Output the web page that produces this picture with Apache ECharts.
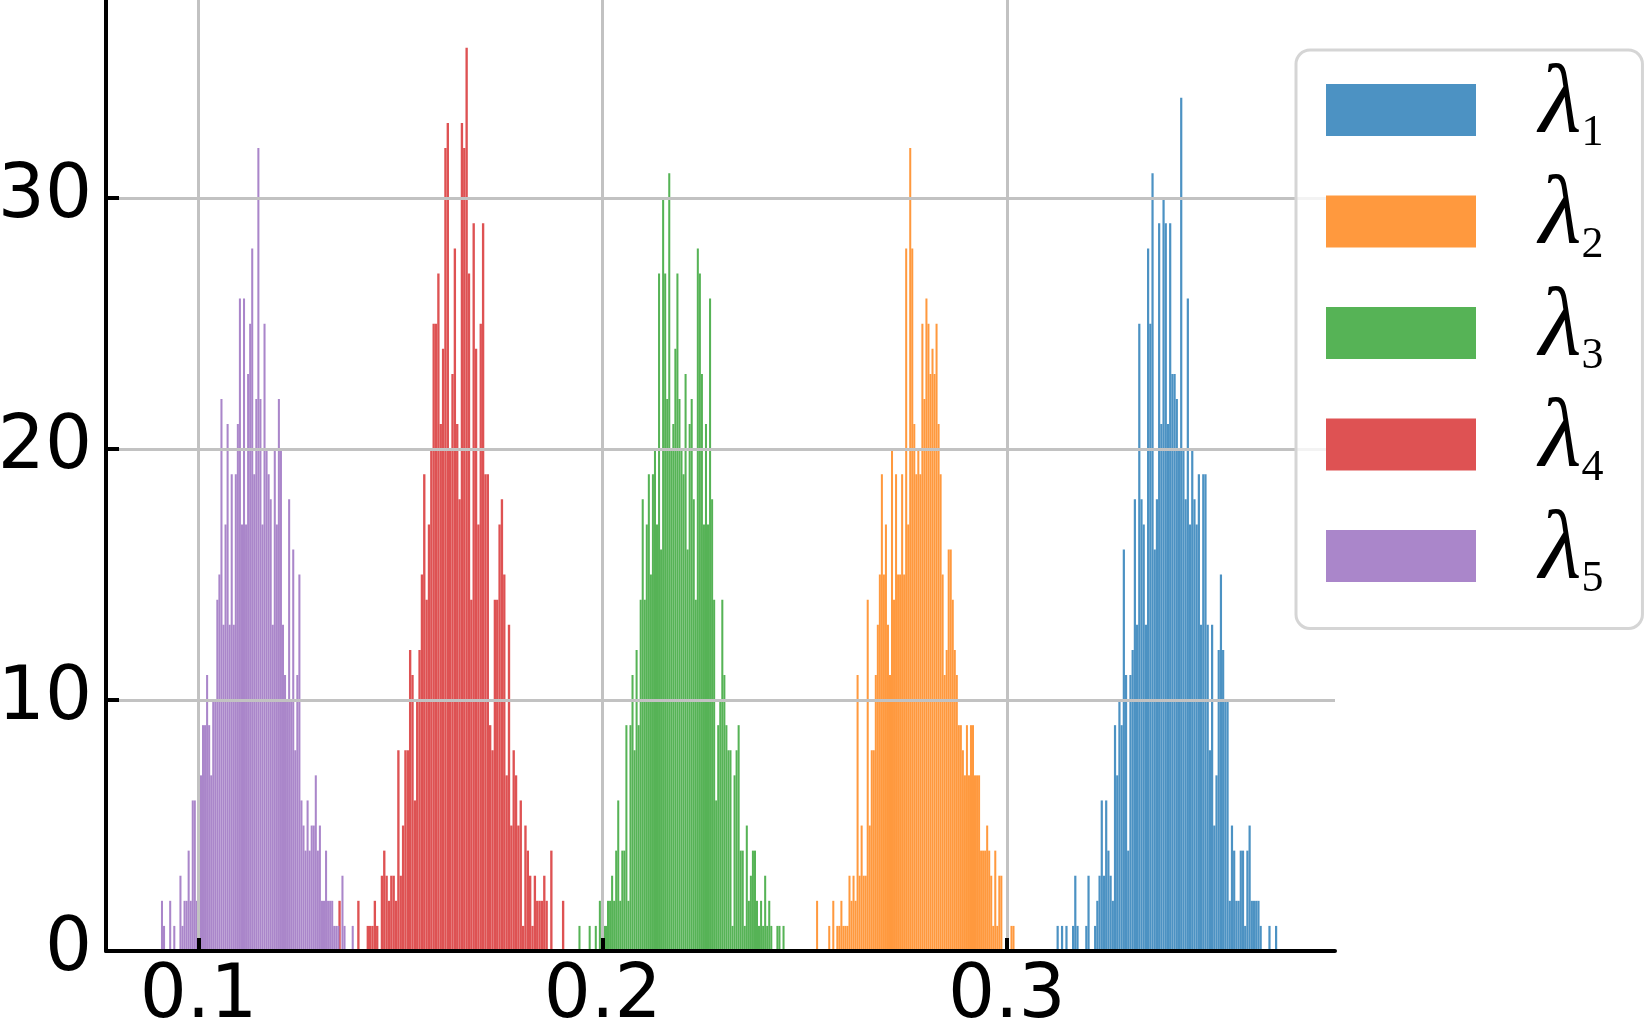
<!DOCTYPE html>
<html>
<head>
<meta charset="utf-8">
<script src="https://cdn.jsdelivr.net/npm/echarts@6/dist/echarts.min.js"></script>
<style>
  html, body { margin: 0; padding: 0; background: #fff; }
  #chart { width: 1644px; height: 1024px; }
</style>
</head>
<body>
<div id="chart"></div>
<script>
// bin counts, left to right; each hist spans [start, end]
const lambda1Range = [0.3123, 0.3669];
const lambda1Counts = [1,0,1,0,1,0,0,1,3,1, 0,0,0,1,3,0,0,1,2,3, 6,3,6,4,3,2,9,7,10,9,
  16,11,4,11,12,18,13,25,18,17, 13,28,25,31,16,18,29,21,30,29, 21,29,23,23,22,20,34,20,18,26,
  17,20,18,17,19,13,19,19,13,8, 13,5,7,12,15,12,10,10,2,5, 4,2,2,4,4,1,4,5,2,2, 2,2,1,0,0,0,1,0,0,1];

const lambda2Range = [0.2528, 0.3019];
const lambda2Counts = [2,0,0,0,0,0,1,0,2,0, 1,1,2,1,1,1,3,2,3,2, 11,3,5,3,3,14,5,8,8,11,
  13,15,19,15,17,13,11,20,14,19, 15,15,19,15,28,17,32,28,21,19, 20,19,25,22,26,25,23,24,23,25,
  21,19,15,11,12,16,16,14,12,11, 9,9,8,7,9,7,9,9,7,7, 7,4,4,4,5,4,3,1,4,1, 3,3,0,0,0,0,1,1];

const lambda3Range = [0.1940, 0.2450];
const lambda3Counts = [1,0,0,0,0,1,0,0,1,0, 2,0,1,1,2,2,3,2,4,6, 2,4,4,9,2,9,11,8,12,9,
  14,18,14,17,19,15,19,20,17,27, 16,30,27,22,31,20,21,24,27,22, 20,19,23,16,21,22,18,14,28,27,
  23,17,21,17,26,18,14,6,9,10, 14,11,9,8,8,1,7,8,9,4, 4,1,5,2,3,4,4,2,1,2, 1,3,1,2,1,0,0,1,1,0, 1];

const lambda4Range = [0.1346, 0.1905];
const lambda4Counts = [2,0,0,0,0,0,0,0, 2,0,0,0,1,1,1,2,1,0,
  3,4,3,2,3,3,2,8,3,5, 8,8,12,11,6,10,12,15,19,14, 17,20,25,25,27,21,24,32,33,20,
  23,28,21,18,33,32,36,27,14,29, 24,17,25,29,19,19,9,8,14,14, 17,18,15,7,13,5,8,7,5,6,
  1,5,4,3,1,3,2,2,2,3,2, 0,4,0,0,0,0,2];

const lambda5Range = [0.0907, 0.1384];
const lambda5Counts = [2,1,0,0,2,0,1,0,0,3, 1,2,2,4,2,6,6,2,6,7, 9,9,11,9,7,10,10,14,15,22,
  13,17,21,13,19,13,19,21,26,17, 26,17,23,25,28,19,22,32,22,17, 25,20,19,18,13,20,17,22,20,13,
  11,10,18,10,16,8,11,15,6,5, 4,6,4,5,5,7,4,5,2,2, 4,2,2,2,1,1,1,0,3,1, 0,0,0,1];

const seriesNames = ['λ1', 'λ2', 'λ3', 'λ4', 'λ5'];
const xTicks = [0.1, 0.2, 0.3];
const yTicks = [0, 10, 20, 30];

const colors = ['#4c92c3', '#ff993e', '#56b356', '#de5253', '#aa86ca'];

// turn counts into [left edge, right edge, count]
function toBins(range, counts) {
  const w = (range[1] - range[0]) / counts.length;
  return counts.map((c, i) => [range[0] + i * w, range[0] + (i + 1) * w, c]);
}

const allBins = [
  toBins(lambda1Range, lambda1Counts),
  toBins(lambda2Range, lambda2Counts),
  toBins(lambda3Range, lambda3Counts),
  toBins(lambda4Range, lambda4Counts),
  toBins(lambda5Range, lambda5Counts)
];

function renderBar(params, api) {
  const topLeft = api.coord([api.value(0), api.value(2)]);
  const bottomRight = api.coord([api.value(1), 0]);
  return {
    type: 'rect',
    shape: {
      x: topLeft[0],
      y: topLeft[1],
      width: bottomRight[0] - topLeft[0],
      height: bottomRight[1] - topLeft[1]
    },
    style: { fill: api.visual('color') }
  };
}

const chart = echarts.init(document.getElementById('chart'));

chart.setOption({
  animation: false,
  grid: { left: 106, right: 309, top: 0, bottom: 73, outerBoundsMode: 'none' },
  xAxis: {
    type: 'value',
    min: 0.0771,
    max: 0.3812,
    z: 3,
    axisLine: { show: true, lineStyle: { color: '#000', width: 4 } },
    axisTick: { show: true, inside: true, length: 13, customValues: xTicks, lineStyle: { color: '#000', width: 4 } },
    axisLabel: {
      customValues: xTicks,
      margin: 10,
      fontSize: 74,
      fontFamily: 'DejaVu Sans',
      color: '#000',
      formatter: v => v.toFixed(1)
    },
    splitLine: { show: true, lineStyle: { color: '#c2c2c2', width: 3 } }
  },
  yAxis: {
    type: 'value',
    min: 0,
    max: 37.9,
    z: 3,
    axisLine: { show: true, lineStyle: { color: '#000', width: 4 } },
    axisTick: { show: true, inside: true, length: 13, customValues: yTicks, lineStyle: { color: '#000', width: 4 } },
    axisLabel: {
      customValues: yTicks,
      margin: 14,
      fontSize: 74,
      fontFamily: 'DejaVu Sans',
      color: '#000'
    },
    splitLine: { show: true, lineStyle: { color: '#c2c2c2', width: 3 } }
  },
  legend: {
    orient: 'vertical',
    left: 1296,
    top: 50,
    data: seriesNames,
    selectedMode: false,
    icon: 'rect',
    itemWidth: 150,
    itemHeight: 52,
    itemGap: 12,
    padding: [6, 39, 27, 30],
    backgroundColor: 'rgba(255,255,255,0.8)',
    borderColor: '#d5d5d5',
    borderWidth: 3,
    borderRadius: 14,
    formatter: name => '{g| }{l|λ}{s|' + name.slice(1) + '}',
    textStyle: {
      rich: {
        g: { width: 58, fontSize: 10, lineHeight: 80 },
        l: { fontFamily: 'Liberation Serif', fontStyle: 'italic', fontSize: 98, lineHeight: 80, height: 70, verticalAlign: 'top', color: '#000' },
        s: { fontFamily: 'Liberation Serif', fontSize: 44, lineHeight: 80, height: 33, verticalAlign: 'bottom', color: '#000' }
      }
    }
  },
  series: seriesNames.map((name, i) => ({
    name: name,
    type: 'custom',
    renderItem: renderBar,
    itemStyle: { color: colors[i] },
    encode: { x: [0, 1], y: 2 },
    data: allBins[i],
    z: 2
  }))
});
</script>
</body>
</html>
